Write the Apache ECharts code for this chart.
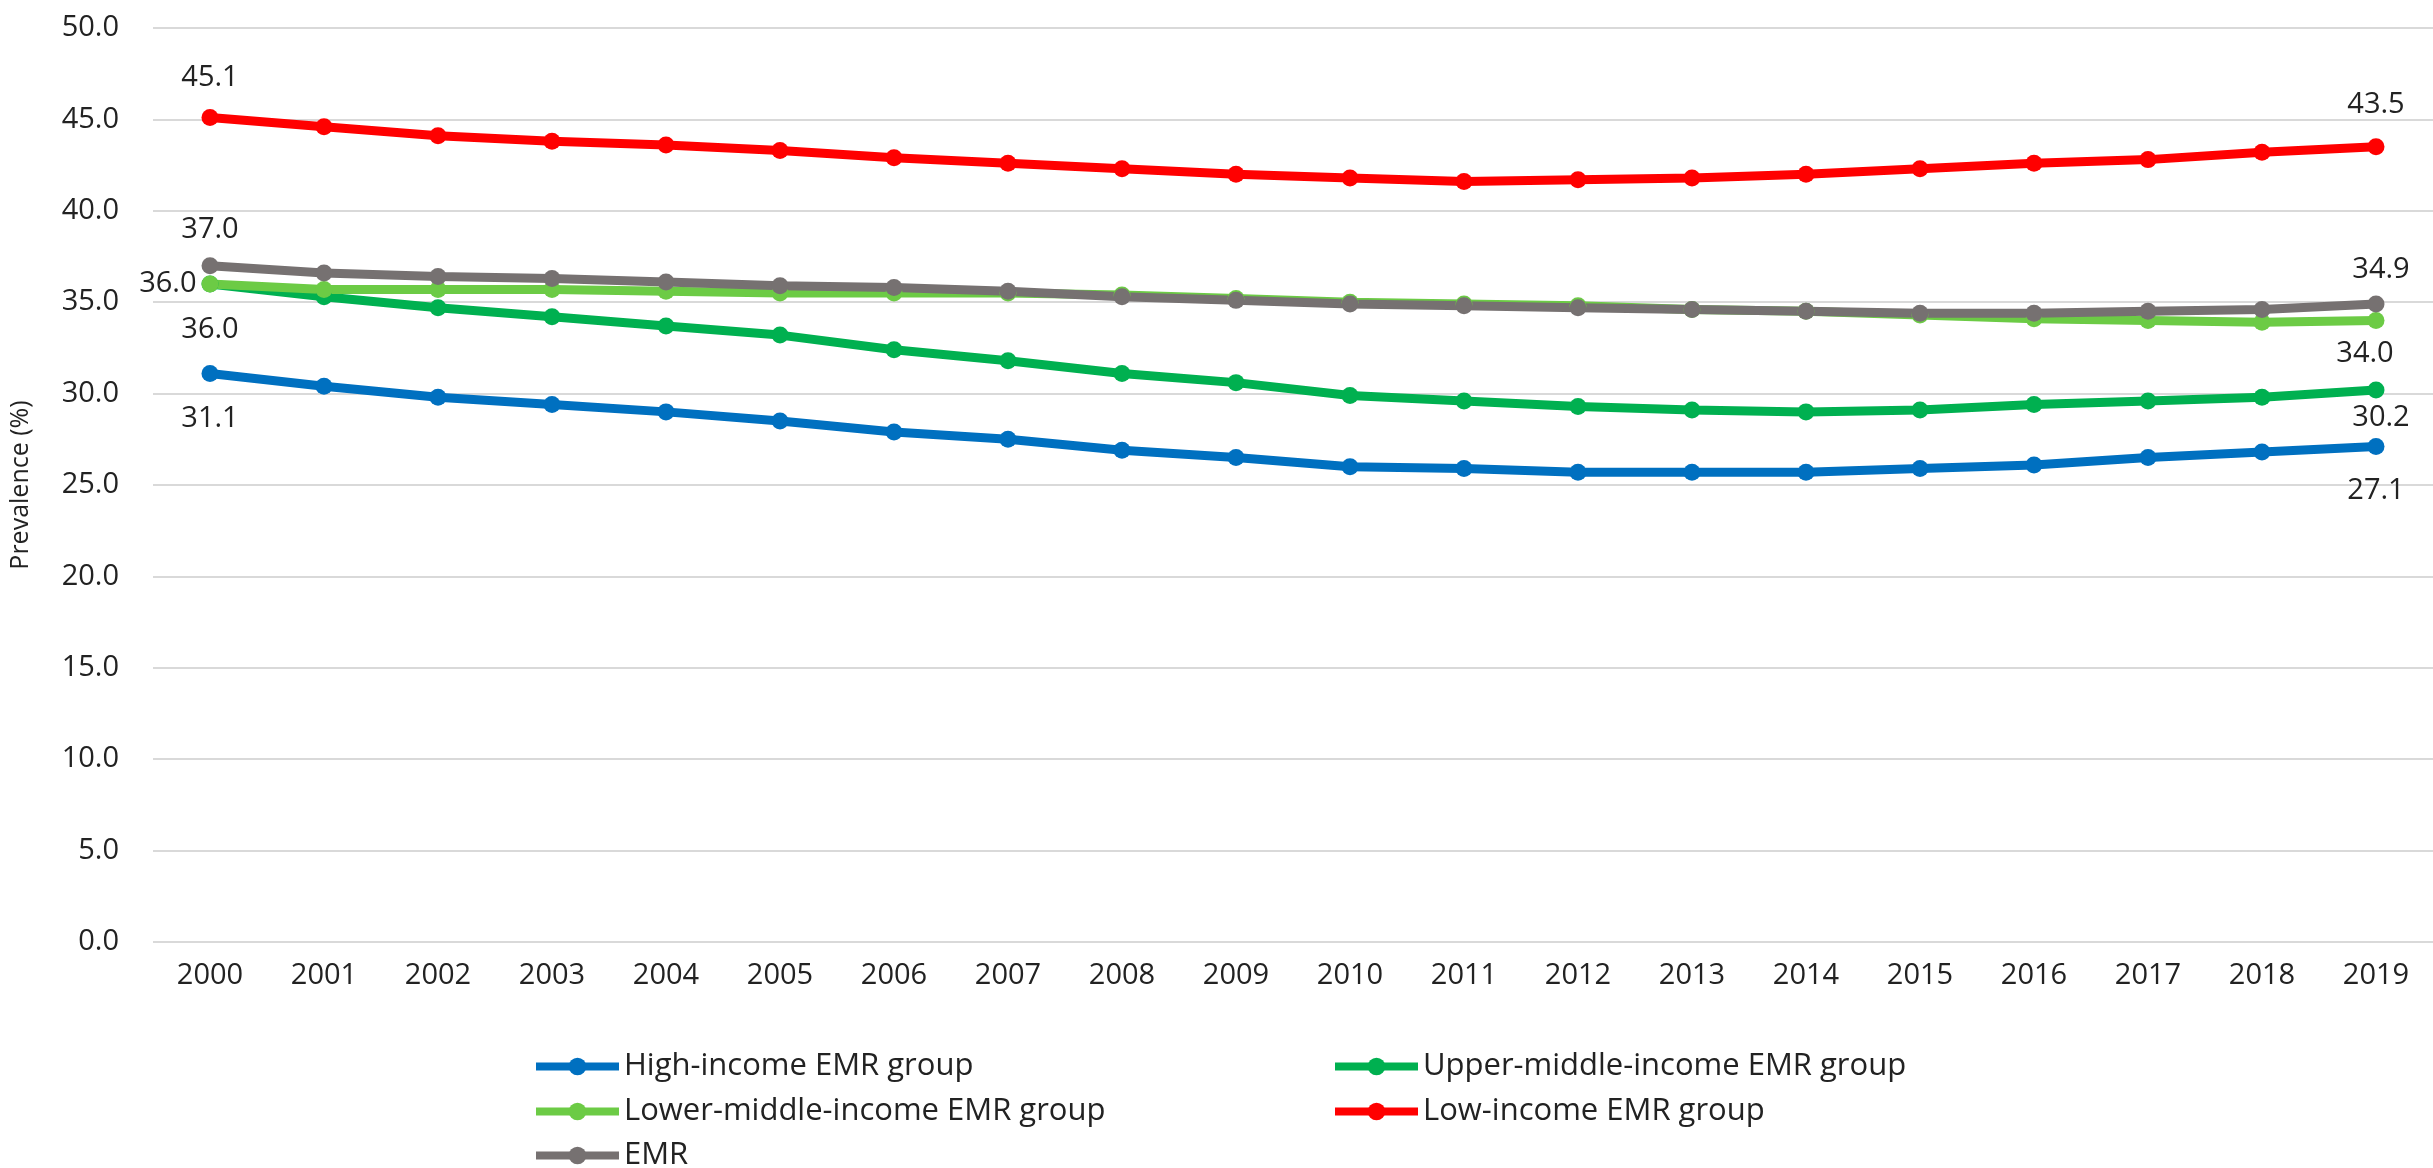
<!DOCTYPE html>
<html>
<head>
<meta charset="utf-8">
<title>Prevalence by EMR income group, 2000–2019</title>
<script src="https://cdn.jsdelivr.net/npm/echarts@6/dist/echarts.min.js"></script>
<style>
  html, body { margin: 0; padding: 0; background: #ffffff; }
  #chart { width: 2433px; height: 1168px; }
</style>
</head>
<body>
<div id="chart"></div>
<script>
// Years on the category axis
const years = ['2000','2001','2002','2003','2004','2005','2006','2007','2008','2009',
               '2010','2011','2012','2013','2014','2015','2016','2017','2018','2019'];

// Prevalence (%) per group
const highIncome = [31.1,30.4,29.8,29.4,29.0,28.5,27.9,27.5,26.9,26.5,26.0,25.9,25.7,25.7,25.7,25.9,26.1,26.5,26.8,27.1];
const upperMiddleIncome = [36.0,35.3,34.7,34.2,33.7,33.2,32.4,31.8,31.1,30.6,29.9,29.6,29.3,29.1,29.0,29.1,29.4,29.6,29.8,30.2];
const lowerMiddleIncome = [36.0,35.7,35.7,35.7,35.6,35.5,35.5,35.5,35.4,35.2,35.0,34.9,34.8,34.6,34.5,34.3,34.1,34.0,33.9,34.0];
const lowIncome = [45.1,44.6,44.1,43.8,43.6,43.3,42.9,42.6,42.3,42.0,41.8,41.6,41.7,41.8,42.0,42.3,42.6,42.8,43.2,43.5];
const emrAll = [37.0,36.6,36.4,36.3,36.1,35.9,35.8,35.6,35.3,35.1,34.9,34.8,34.7,34.6,34.5,34.4,34.4,34.5,34.6,34.9];

// Value-axis ticks
const yTicks = { min: 0, max: 50, step: 5 };

const FONT = '"Open Sans", "Noto Sans", sans-serif';
const TEXT = '#222222';
const LINE_WIDTH = 9;
const MARKER = 17;

// Series definitions: name, values, colour, and where the first/last values are annotated
const groups = [
  { name: 'High-income EMR group', values: highIncome, color: '#0070C0',
    first: { position: 'bottom', distance: 22 }, last: { position: 'bottom', distance: 21 } },
  { name: 'Upper-middle-income EMR group', values: upperMiddleIncome, color: '#00B050',
    first: { position: 'bottom', distance: 23 }, last: { position: 'bottom', distance: 5, offset: [5, 0] } },
  { name: 'Lower-middle-income EMR group', values: lowerMiddleIncome, color: '#6CCB45',
    first: { position: 'left', distance: 5 }, last: { position: 'bottom', distance: 10, offset: [-11, 0] } },
  { name: 'Low-income EMR group', values: lowIncome, color: '#FF0000',
    first: { position: 'top', distance: 17 }, last: { position: 'top', distance: 19 } },
  { name: 'EMR', values: emrAll, color: '#767171',
    first: { position: 'top', distance: 13 }, last: { position: 'top', distance: 11, offset: [5, 0] } }
];

const valueLabel = (extra) => Object.assign({
  show: true,
  fontFamily: FONT,
  fontSize: 29,
  color: TEXT,
  formatter: (p) => Number(p.value).toFixed(1)
}, extra);

const series = groups.map((g) => ({
  name: g.name,
  type: 'line',
  symbol: 'circle',
  symbolSize: MARKER,
  color: g.color,
  lineStyle: { width: LINE_WIDTH, color: g.color },
  itemStyle: { color: g.color },
  label: { show: false },
  emphasis: { disabled: true },
  animation: false,
  data: g.values.map((v, i) => {
    if (i === 0) return { value: v, label: valueLabel(g.first) };
    if (i === g.values.length - 1) return { value: v, label: valueLabel(g.last) };
    return v;
  })
}));

// Legend laid out as two columns over three rows
const legendSlots = [
  { left: 532, row: 0 }, { left: 1331, row: 0 },
  { left: 532, row: 1 }, { left: 1331, row: 1 },
  { left: 532, row: 2 }
];
const rowTops = [1051, 1096, 1140];

const legends = groups.map((g, i) => ({
  show: true,
  left: legendSlots[i].left,
  top: rowTops[legendSlots[i].row],
  padding: 0,
  itemWidth: 83,
  itemHeight: 22,
  data: [g.name],
  selectedMode: false,
  lineStyle: { width: 8 },
  textStyle: { fontFamily: FONT, fontSize: 31, color: TEXT }
}));

const chart = echarts.init(document.getElementById('chart'), null, { renderer: 'canvas' });

chart.setOption({
  backgroundColor: '#ffffff',
  animation: false,
  // The plot area runs slightly past the right edge of the canvas
  grid: { left: 148, top: 28, bottom: 226, width: 2302, containLabel: false },
  legend: legends,
  xAxis: {
    type: 'category',
    data: years,
    boundaryGap: true,
    axisLine: { show: false },
    axisTick: { show: false },
    axisLabel: { interval: 0, margin: 19, fontFamily: FONT, fontSize: 29, color: TEXT },
    splitLine: { show: false }
  },
  yAxis: {
    type: 'value',
    min: yTicks.min,
    max: yTicks.max,
    interval: yTicks.step,
    name: 'Prevalence (%)',
    nameLocation: 'middle',
    nameGap: 120,
    nameTextStyle: { fontFamily: FONT, fontSize: 25, color: TEXT },
    axisLine: { show: false },
    axisTick: { show: false },
    axisLabel: {
      margin: 34,
      fontFamily: FONT,
      fontSize: 29,
      color: TEXT,
      formatter: (v) => v.toFixed(1)
    },
    splitLine: { show: true, lineStyle: { color: '#D9D9D9', width: 2 } }
  },
  series: series
});
</script>
</body>
</html>
